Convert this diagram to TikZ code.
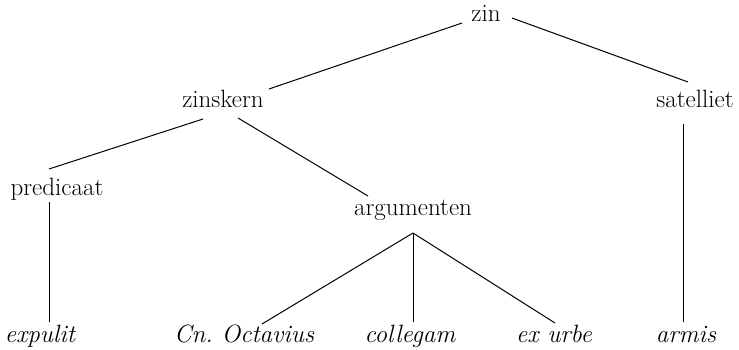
\documentclass[tikz,border=0pt]{standalone}
\begin{document}
\begin{tikzpicture}[x=1pt,y=-1pt,
  lbl/.style={inner sep=0pt, anchor=base, font=\fontsize{25}{30}\selectfont},
  leaf/.style={inner sep=0pt, anchor=base, font=\fontsize{25}{30}\selectfont\itshape},
  edge/.style={line width=1pt}]
\useasboundingbox (0,0) rectangle (739,349);
% labels
\node[lbl] (zin) at (486,21) {zin};
\node[lbl] (zinskern) at (223,107) {zinskern};
\node[lbl] (satelliet) at (695,107) {satelliet};
\node[lbl] (predicaat) at (57,195) {predicaat};
\node[lbl] (argumenten) at (413,215) {argumenten};
\node[leaf] (expulit) at (40,342) {expulit};
\node[leaf] (octavius) at (244,342) {Cn.\ Octavius};
\node[leaf] (collegam) at (410,342) {collegam};
\node[leaf] (exurbe) at (554,342) {ex urbe};
\node[leaf] (armis) at (686,342) {armis};
% connector end points
\coordinate (zinL) at (462,23);
\coordinate (zinR) at (512,18);
\coordinate (zkT) at (269,89);
\coordinate (satT) at (688,82);
\coordinate (zkBL) at (203,119);
\coordinate (zkBR) at (238,118);
\coordinate (prT) at (49,169);
\coordinate (prB) at (49,202);
\coordinate (argT) at (368,196);
\coordinate (argB) at (413,233);
\coordinate (satB) at (683,124);
\coordinate (expT) at (49,322);
\coordinate (octT) at (262,324);
\coordinate (colT) at (413,322);
\coordinate (exT) at (555,323);
\coordinate (armT) at (683,322);
% connectors
\draw[edge] (zinL) -- (zkT);
\draw[edge] (zinR) -- (satT);
\draw[edge] (zkBL) -- (prT);
\draw[edge] (zkBR) -- (argT);
\draw[edge] (prB) -- (expT);
\draw[edge] (argB) -- (octT);
\draw[edge] (argB) -- (colT);
\draw[edge] (argB) -- (exT);
\draw[edge] (satB) -- (armT);
\end{tikzpicture}
\end{document}
